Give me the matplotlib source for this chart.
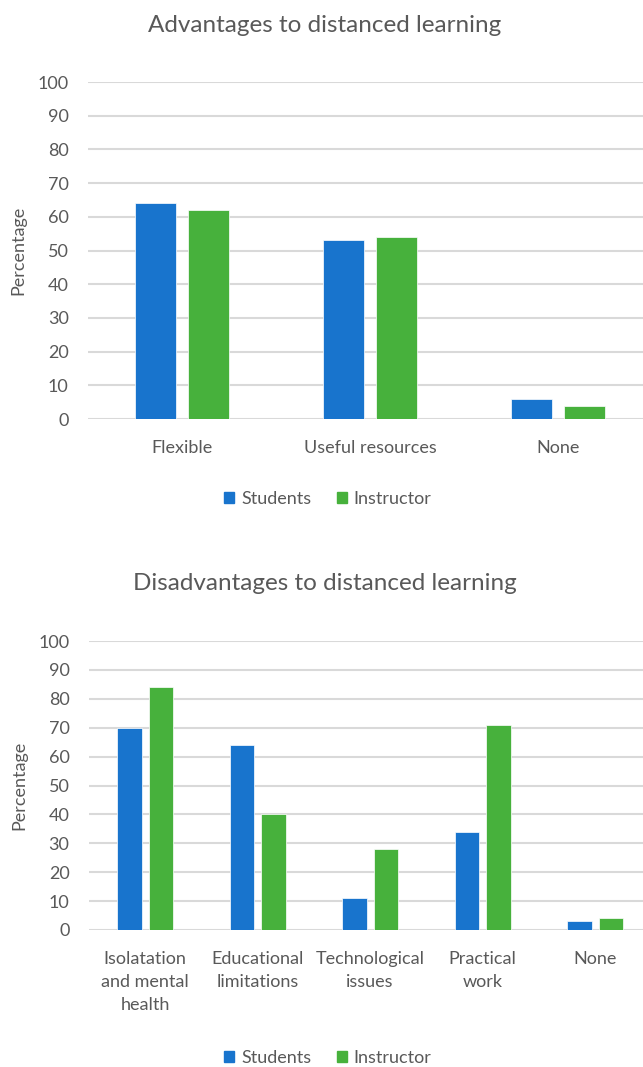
import numpy as np
import matplotlib.pyplot as plt
from matplotlib.patches import Patch

plt.rcParams['font.family'] = ['Lato', 'DejaVu Sans']

# data
adv_labels = ['Flexible', 'Useful resources', 'None']
adv_students = [64, 53, 6]
adv_instructor = [62, 54, 4]

dis_labels = ['Isolatation\nand mental\nhealth', 'Educational\nlimitations',
              'Technological\nissues', 'Practical\nwork', 'None']
dis_students = [70, 64, 11, 34, 3]
dis_instructor = [84, 40, 28, 71, 4]

series_names = ['Students', 'Instructor']
blue = '#1874CD'
green = '#47B13C'
grey_text = '#595959'
grid_col = '#D9D9D9'
fs = 13

fig = plt.figure(figsize=(6.43, 10.67), dpi=100)


def draw_panel(rect, labels, students, instructor, title, title_y, legend_y):
    ax = fig.add_axes(rect)
    x = np.arange(len(labels))
    w = 0.22
    off = 0.14
    ax.bar(x - off, students, width=w, color=blue, edgecolor='white', linewidth=0.5, zorder=3)
    ax.bar(x + off, instructor, width=w, color=green, edgecolor='white', linewidth=0.5, zorder=3)
    ax.set_xlim(-0.5, len(labels) - 0.5)
    ax.set_ylim(0, 100)
    ax.set_yticks(range(0, 101, 10))
    ax.set_xticks(x)
    ax.set_xticklabels(labels, fontsize=fs, color=grey_text, linespacing=1.55)
    ax.tick_params(axis='y', labelsize=fs, colors=grey_text, length=0, pad=14)
    ax.tick_params(axis='x', length=0, pad=15)
    ax.yaxis.grid(True, color=grid_col, linewidth=1.5, zorder=0)
    ax.set_axisbelow(True)
    for s in ax.spines.values():
        s.set_visible(False)
    ax.set_ylabel('Percentage', fontsize=fs, color=grey_text, labelpad=8)
    fig.text(0.505, title_y, title, ha='center', va='center', fontsize=17.5, color=grey_text)
    handles = [Patch(color=blue), Patch(color=green)]
    fig.legend(handles, series_names, loc='center', bbox_to_anchor=(0.51, legend_y),
               ncol=2, frameon=False, fontsize=fs, labelcolor=grey_text,
               handlelength=0.55, handleheight=0.55, handletextpad=0.4, columnspacing=1.4)
    return ax


draw_panel([0.137, 0.6073, 0.877, 0.3158], adv_labels, adv_students, adv_instructor,
           'Advantages to distanced learning', 1 - 25 / 1067, 1 - 499 / 1067)
draw_panel([0.1384, 0.1284, 0.8747, 0.2708], dis_labels, dis_students, dis_instructor,
           'Disadvantages to distanced learning', 1 - 583 / 1067, 1 - 1058 / 1067)

fig.savefig('out.png', dpi=100)
